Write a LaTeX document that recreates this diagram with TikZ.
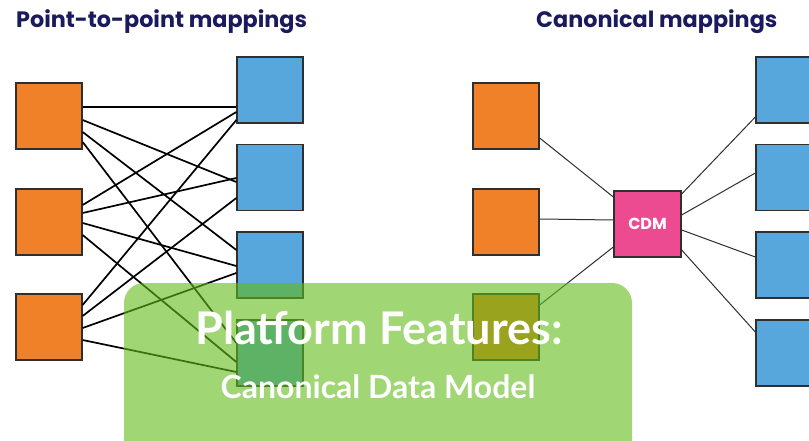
\documentclass[tikz,border=0pt]{standalone}
\usepackage{fontspec}
\newfontfamily\poppins{Poppins}
\newfontfamily\latofont{Lato}
\definecolor{navy}{HTML}{1A1A5C}
\definecolor{orangebox}{HTML}{F08128}
\definecolor{bluebox}{HTML}{57A6DC}
\definecolor{pinkbox}{HTML}{EC4A91}
\definecolor{edgebox}{HTML}{2F2F2F}
\definecolor{overlaygreen}{RGB}{97,187,22}
\tikzset{
  srcbox/.style={draw=edgebox, line width=1.3pt, fill=orangebox, minimum width=66pt, minimum height=66pt, inner sep=0pt},
  dstbox/.style={draw=edgebox, line width=1.3pt, fill=bluebox, minimum width=66pt, minimum height=66pt, inner sep=0pt},
  cdmbox/.style={draw=edgebox, line width=1.3pt, fill=pinkbox, minimum width=67pt, minimum height=66pt, inner sep=0pt, text=white, font=\poppins\bfseries\fontsize{16}{18}\selectfont},
  ptplink/.style={draw=black, line width=1.7pt},
  cdmlink/.style={draw=edgebox, line width=1pt},
  titletext/.style={anchor=base west, text=navy, font=\poppins\bfseries\fontsize{22.3}{25}\selectfont, inner sep=0pt}
}
\begin{document}
\begin{tikzpicture}[x=1pt,y=-1pt]
\useasboundingbox (0,0) rectangle (809,441);
\clip (0,0) rectangle (809,441);
\fill[white] (0,0) rectangle (809,441);
% titles
\node[titletext] (t1) at (16,28) {Point-to-point mappings};
\node[titletext] (t2) at (536,28) {Canonical mappings};
% left boxes
\node[srcbox] (o1) at (49,116) {};
\node[srcbox] (o2) at (49,222) {};
\node[srcbox] (o3) at (49,327) {};
\node[dstbox] (b1) at (270,90) {};
\node[dstbox] (b2) at (270,177.5) {};
\node[dstbox] (b3) at (270,265) {};
\node[dstbox] (b4) at (270,353) {};
% left links
\draw[ptplink] ([yshift=9]o1.east) -- ([yshift=-17]b1.west);
\draw[ptplink] ([yshift=-4]o1.east) -- ([yshift=-4.5]b2.west);
\draw[ptplink] ([yshift=-16]o1.east) -- ([yshift=15]b3.west);
\draw[ptplink] ([yshift=-26]o1.east) -- ([yshift=10]b4.west);
\draw[ptplink] ([yshift=17]o2.east) -- ([yshift=-22]b1.west);
\draw[ptplink] ([yshift=9]o2.east) -- ([yshift=-0.5]b2.west);
\draw[ptplink] ([yshift=-1]o2.east) -- ([yshift=-1]b3.west);
\draw[ptplink] ([yshift=-13]o2.east) -- ([yshift=-9]b4.west);
\draw[ptplink] ([yshift=22]o3.east) -- ([yshift=-30]b1.west);
\draw[ptplink] ([yshift=11]o3.east) -- ([yshift=-20.5]b2.west);
\draw[ptplink] ([yshift=-1]o3.east) -- ([yshift=-8]b3.west);
\draw[ptplink] ([yshift=-13]o3.east) -- ([yshift=-19]b4.west);
% right boxes
\node[srcbox] (r1) at (506,116) {};
\node[srcbox] (r2) at (506,222) {};
\node[srcbox] (r3) at (506,327) {};
\node[cdmbox] (cdm) at (647.5,224) {CDM};
\node[dstbox] (c1) at (789,90) {};
\node[dstbox] (c2) at (789,177.5) {};
\node[dstbox] (c3) at (789,265) {};
\node[dstbox] (c4) at (789,353) {};
% right links
\draw[cdmlink] ([yshift=-22]r1.east) -- ([yshift=27]cdm.west);
\draw[cdmlink] ([yshift=3]r2.east) -- ([yshift=4]cdm.west);
\draw[cdmlink] ([yshift=22]r3.east) -- ([yshift=-23]cdm.west);
\draw[cdmlink] ([yshift=30]cdm.east) -- ([yshift=-27]c1.west);
\draw[cdmlink] ([yshift=9]cdm.east) -- ([yshift=4.5]c2.west);
\draw[cdmlink] ([yshift=-6]cdm.east) -- ([yshift=8]c3.west);
\draw[cdmlink] ([yshift=-26]cdm.east) -- ([yshift=21]c4.west);
% overlay banner
\fill[overlaygreen, fill opacity=0.6, rounded corners=20pt] (124,283) rectangle (632,480);
\node[text=white, font=\latofont\bfseries\fontsize{45}{49}\selectfont, anchor=base, inner sep=0pt] (h1) at (379,344) {Platform Features:};
\node[text=white, font=\latofont\bfseries\fontsize{32}{36}\selectfont, anchor=base, inner sep=0pt] (h2) at (378,398) {Canonical Data Model};
\end{tikzpicture}
\end{document}
